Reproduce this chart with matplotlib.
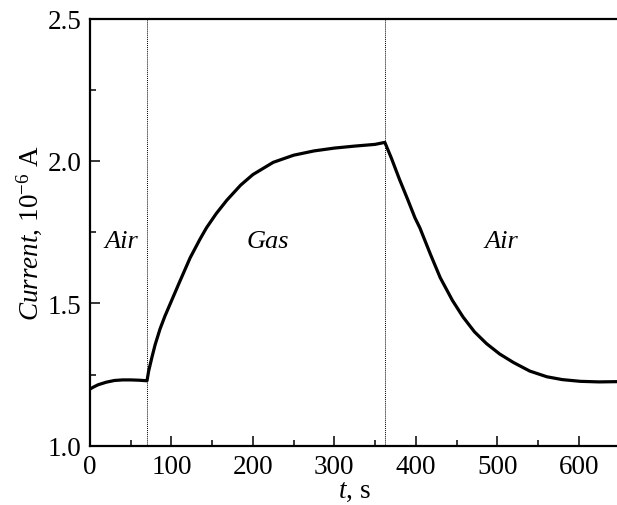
import numpy as np
import matplotlib
matplotlib.use("Agg")
import matplotlib.pyplot as plt

plt.rcParams['font.family'] = ['Liberation Serif', 'DejaVu Serif']
plt.rcParams['mathtext.fontset'] = 'custom'
plt.rcParams['mathtext.rm'] = 'Liberation Serif'
plt.rcParams['mathtext.it'] = 'Liberation Serif:italic'

# Data
t = [0, 5, 10, 20, 30, 40, 50, 60, 70,
     71, 72, 76, 80, 86, 92, 98, 104, 110, 123, 135, 143, 155, 168, 185, 200,
     225, 250, 275, 300, 325, 350, 362,
     370, 380, 390, 399, 405, 418, 430, 445, 458, 472, 487, 503, 520, 540,
     561, 580, 602, 625, 650]
current = [1.199, 1.207, 1.214, 1.223, 1.229, 1.231, 1.231, 1.230, 1.228,
           1.245, 1.262, 1.31, 1.355, 1.41, 1.455, 1.495, 1.535, 1.575, 1.66, 1.725, 1.765,
           1.815, 1.862, 1.915, 1.952,
           1.995, 2.020, 2.035, 2.045, 2.052, 2.058, 2.065,
           2.01, 1.935, 1.865, 1.80, 1.765, 1.672, 1.59, 1.51, 1.452, 1.40, 1.358,
           1.322, 1.292, 1.262,
           1.242, 1.232, 1.226, 1.224, 1.225]

switch_times = [70, 362]
region_labels = ['Air', 'Gas', 'Air']
region_x = [39, 218, 505]
region_y = [1.718, 1.718, 1.718]

xticks = [0, 100, 200, 300, 400, 500, 600]
yticks = [1.0, 1.5, 2.0, 2.5]

fig = plt.figure(figsize=(6.17, 5.06), dpi=100)
ax = fig.add_axes([90/617, 1 - 446.7/506, (619.4 - 90)/617, (446.7 - 19.5)/506])

ax.plot(t, current, color='black', lw=2.3, solid_joinstyle='round')
for xs in switch_times:
    ax.axvline(xs, color='black', lw=0.7, ls=(0, (1, 1)))
for lab, x, y in zip(region_labels, region_x, region_y):
    ax.text(x, y, lab, fontsize=19, style='italic', ha='center', va='center')

ax.set_xlim(0, 650)
ax.set_ylim(1.0, 2.5)
ax.set_xticks(xticks)
ax.set_yticks(yticks)
ax.set_xticks([50, 150, 250, 350, 450, 550, 650], minor=True)
ax.set_yticks([1.25, 1.75, 2.25], minor=True)
ax.set_yticklabels([f'{v:.1f}' for v in yticks])
ax.tick_params(axis='both', which='major', direction='in', length=7, width=1.1,
               labelsize=19.5, pad=6)
ax.tick_params(axis='both', which='minor', direction='in', length=4, width=1.1)
ax.tick_params(top=False, right=False)
for s in ax.spines.values():
    s.set_linewidth(1.6)

ax.set_xlabel(r'$\it{t}$, s', fontsize=19.5, labelpad=-1)
ax.set_ylabel(r'$\it{Current}$, 10$^{-6}$ A', fontsize=19.5, labelpad=3)

fig.savefig('out.png', dpi=100)
